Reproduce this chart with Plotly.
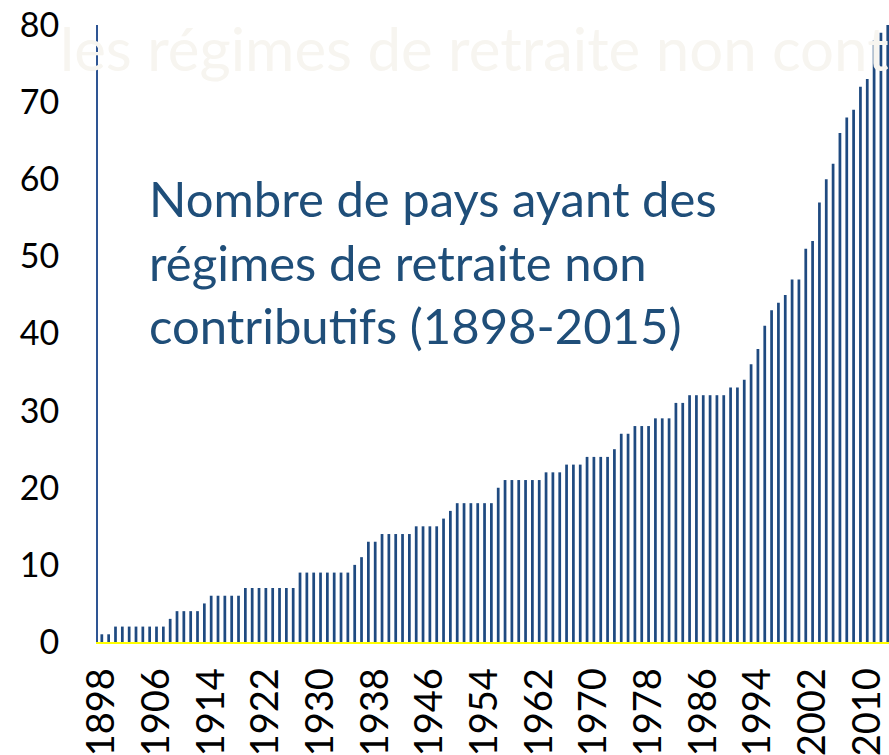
import plotly.graph_objects as go

# number of countries with non-contributory pension schemes, by year
years = list(range(1898, 2014))
countries = (
    [1, 1]
    + [2] * 8          # 1900-1907
    + [3]              # 1908
    + [4] * 4          # 1909-1912
    + [5]              # 1913
    + [6] * 5          # 1914-1918
    + [7] * 8          # 1919-1926
    + [9] * 8          # 1927-1934
    + [10, 11, 13, 13]  # 1935-1938
    + [14] * 5         # 1939-1943
    + [15] * 4         # 1944-1947
    + [16, 17]         # 1948-1949
    + [18] * 6         # 1950-1955
    + [20]             # 1956
    + [21] * 6         # 1957-1962
    + [22] * 3         # 1963-1965
    + [23] * 3         # 1966-1968
    + [24] * 4         # 1969-1972
    + [25, 27, 27]     # 1973-1975
    + [28] * 3         # 1976-1978
    + [29] * 3         # 1979-1981
    + [31, 31]         # 1982-1983
    + [32] * 6         # 1984-1989
    + [33, 33, 34, 36, 38, 41, 43, 44, 45, 47, 47]  # 1990-2000
    + [51, 52, 57, 60, 62, 66, 68, 69, 72, 73, 78, 79, 80]  # 2001-2013
)

tick_years = list(range(1898, 2014, 8))
y_ticks = list(range(0, 81, 10))

title_text = "Nombre de pays ayant des<br>régimes de retraite non<br>contributifs (1898-2015)"
watermark = "les régimes de retraite non contributifs"

BLUE = "#1F4A80"
FONT = "Lato, Open Sans, sans-serif"

fig = go.Figure(
    go.Bar(x=years, y=countries, width=0.4, marker=dict(color=BLUE, line=dict(width=0)))
)

fig.update_layout(
    width=889,
    height=755,
    margin=dict(l=98, r=0, t=25, b=113),
    plot_bgcolor="white",
    paper_bgcolor="white",
    showlegend=False,
    font=dict(family=FONT, color="black"),
    xaxis=dict(
        range=[1897.44, 2013.18],
        tickvals=tick_years,
        tickangle=-90,
        tickfont=dict(size=38),
        showgrid=False,
        zeroline=False,
        showline=True,
        linecolor="#FFFF00",
        linewidth=2,
        ticks="outside",
        ticklen=9,
        tickcolor="rgba(0,0,0,0)",
        automargin=False,
    ),
    yaxis=dict(
        range=[0, 80],
        tickvals=y_ticks,
        tickfont=dict(size=34),
        showgrid=False,
        zeroline=False,
        showline=True,
        linecolor="#2E5594",
        linewidth=2,
        ticks="outside",
        ticklen=30,
        tickcolor="rgba(0,0,0,0)",
        automargin=False,
    ),
)

fig.add_annotation(
    text=watermark,
    xref="paper", yref="paper",
    x=-0.05, y=0.963,
    xanchor="left", yanchor="middle",
    showarrow=False,
    font=dict(size=60, color="#F7F5F0", family=FONT),
)

fig.add_annotation(
    text=title_text,
    xref="paper", yref="y",
    x=0.062, y=49.4,
    xanchor="left", yanchor="middle",
    align="left",
    showarrow=False,
    font=dict(size=49, color="#1F4E79", family=FONT),
)

# the page's default body margin would push the chart 8px off
fig.write_html(
    "out.html",
    config={"displayModeBar": False},
    post_script="document.body.style.margin = '0';",
)
